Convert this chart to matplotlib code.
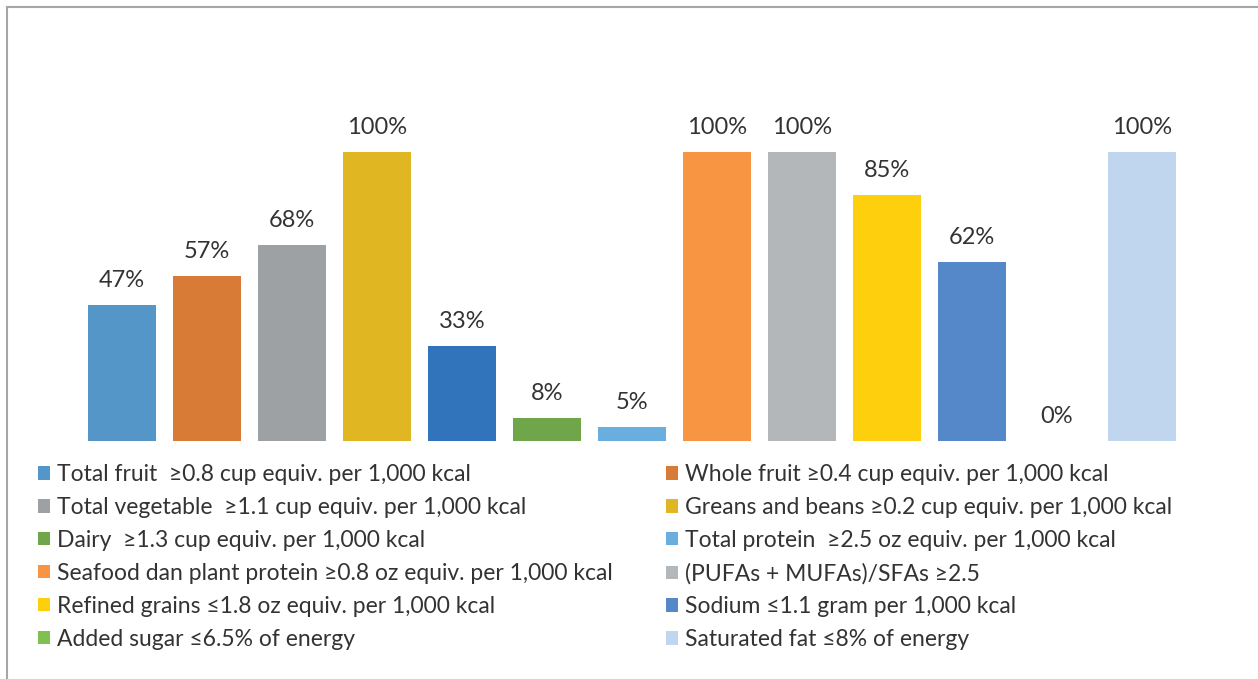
import matplotlib.pyplot as plt
from matplotlib.patches import Patch
from matplotlib.lines import Line2D

plt.rcParams['font.family'] = ['Lato', 'DejaVu Sans']

labels = ["Total fruit  \u22650.8 cup equiv. per 1,000 kcal",
          "Whole fruit \u22650.4 cup equiv. per 1,000 kcal",
          "Total vegetable  \u22651.1 cup equiv. per 1,000 kcal",
          "Greans and beans \u22650.2 cup equiv. per 1,000 kcal",
          "",  # this bar has no legend entry in the original
          "Dairy  \u22651.3 cup equiv. per 1,000 kcal",
          "Total protein  \u22652.5 oz equiv. per 1,000 kcal",
          "Seafood dan plant protein \u22650.8 oz equiv. per 1,000 kcal",
          "(PUFAs + MUFAs)/SFAs \u22652.5",
          "Refined grains \u22641.8 oz equiv. per 1,000 kcal",
          "Sodium \u22641.1 gram per 1,000 kcal",
          "Added sugar \u22646.5% of energy",
          "Saturated fat \u22648% of energy"]
values = [47, 57, 68, 100, 33, 8, 5, 100, 100, 85, 62, 0, 100]
colors = ["#5596C9", "#D87B37", "#9EA1A4", "#E0B623", "#3174BC", "#70A64A",
          "#6AAEE0", "#F79543", "#B4B7B9", "#FDCF0C", "#5588C8", "#80C050",
          "#C0D6EE"]

fig = plt.figure(figsize=(12.58, 6.79), dpi=100)
ax = fig.add_axes([0.0591, 0.3505, 0.8865, 0.4256])

x = range(len(values))
bars = ax.bar(x, values, width=0.79, color=colors)
for xi, v in zip(x, values):
    ax.annotate(f"{v}%", (xi, v), xytext=(0, 10), textcoords='offset points',
                ha='center', va='bottom', fontsize=17, color='#333333')

ax.set_xlim(-0.56, 12.56)
ax.set_ylim(0, 100)
ax.axis('off')

# legend, filled row by row in two columns
items = [(c, l) for c, l in zip(colors, labels) if l]
left = items[0::2]
right = items[1::2]
for col, xpos in [(left, 0.0227), (right, 0.5219)]:
    handles = [Patch(facecolor=c, edgecolor='none', label=l) for c, l in col]
    fig.legend(handles=handles, loc='upper left', bbox_to_anchor=(xpos, 0.330),
               frameon=False, fontsize=16.5, handlelength=0.52, handleheight=0.52,
               handletextpad=0.3, labelspacing=0.52, labelcolor='#333333',
               borderaxespad=0)

# thin border on top and left, like the original frame
fig.add_artist(Line2D([0.0056, 1.0], [0.9897, 0.9897], color='#A6A6A6', lw=1.5))
fig.add_artist(Line2D([0.0056, 0.0056], [0.0, 0.9897], color='#A6A6A6', lw=1.5))

fig.savefig('out.png', dpi=100)
